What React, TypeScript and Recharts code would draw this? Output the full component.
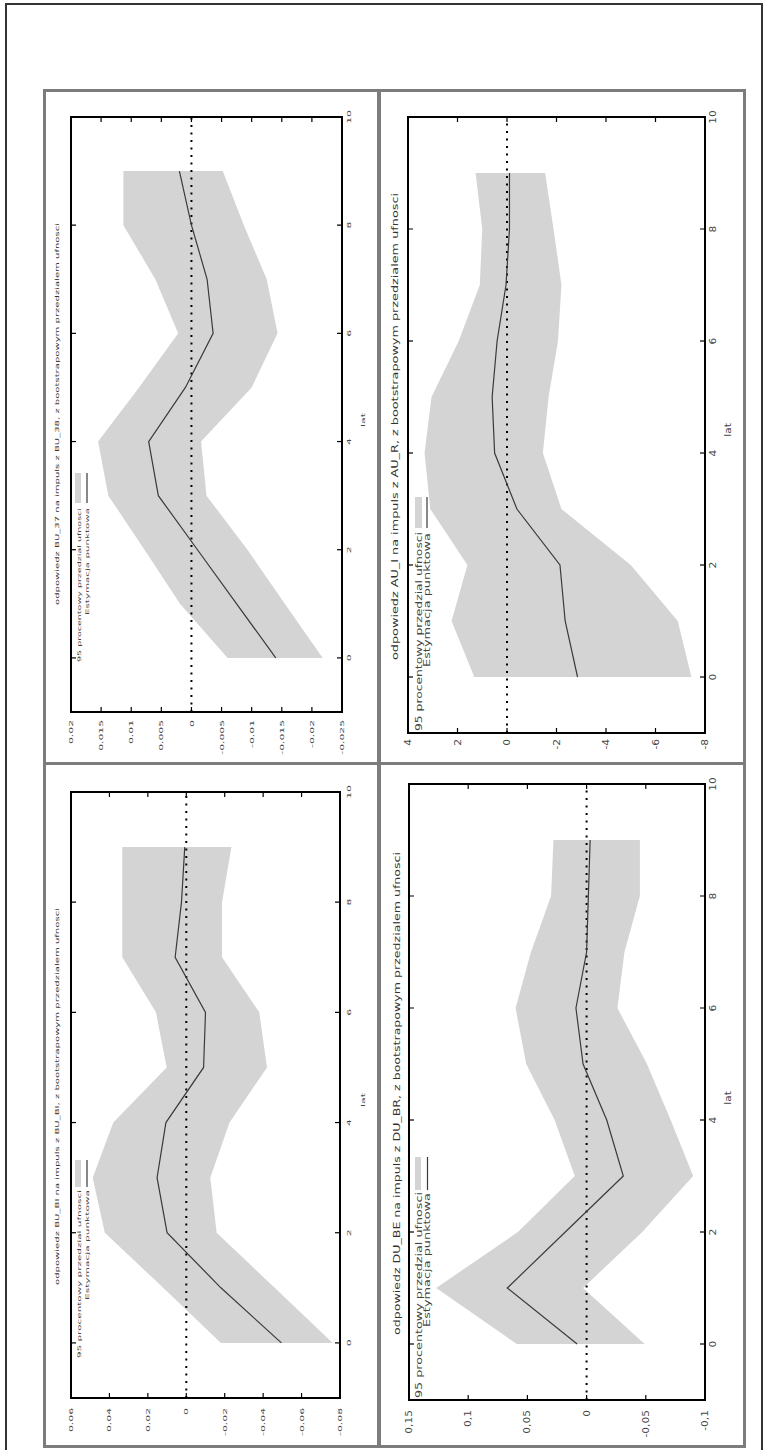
import React from "react";
import { Area, ComposedChart, Line, ReferenceLine, XAxis, YAxis } from "recharts";

// horizon (years) shared by all four impulse responses
const lags = [0, 1, 2, 3, 4, 5, 6, 7, 8, 9];
const lagTicks = [0, 2, 4, 6, 8, 10];
const legendLabels = ["95 procentowy przedzial ufnosci", "Estymacja punktowa"];

// top left
const buUpper = [-0.006, 0.0019, 0.0078, 0.0138, 0.0155, 0.0087, 0.0022, 0.006, 0.0113, 0.0113];
const buLower = [-0.0218, -0.0155, -0.0093, -0.0025, -0.0016, -0.01, -0.0143, -0.0125, -0.0087, -0.0052];
const buEst = [-0.014, -0.0075, -0.001, 0.0055, 0.0071, 0.001, -0.0036, -0.0026, 0.0, 0.002];
const buTicks = [0.02, 0.015, 0.01, 0.005, 0, -0.005, -0.01, -0.015, -0.02, -0.025];

// top right
const auUpper = [1.32, 2.24, 1.6, 3.1, 3.33, 3.05, 1.95, 1.1, 1.0, 1.27];
const auLower = [-7.45, -6.9, -5.0, -2.2, -1.45, -1.68, -2.06, -2.2, -1.88, -1.54];
const auEst = [-2.85, -2.35, -2.14, -0.4, 0.5, 0.6, 0.4, 0.04, -0.1, -0.1];
const auTicks = [4, 2, 0, -2, -4, -6, -8];

// bottom left
const biUpper = [-0.018, 0.012, 0.0424, 0.0487, 0.038, 0.0102, 0.0158, 0.0333, 0.0333, 0.0333];
const biLower = [-0.0762, -0.046, -0.0158, -0.0125, -0.0225, -0.042, -0.038, -0.0186, -0.0186, -0.0235];
const biEst = [-0.0495, -0.018, 0.01, 0.0152, 0.0106, -0.009, -0.01, 0.0058, 0.0025, 0.0008];
const biTicks = [0.06, 0.04, 0.02, 0, -0.02, -0.04, -0.06, -0.08];

// bottom right
const duUpper = [0.059, 0.127, 0.058, 0.01, 0.027, 0.051, 0.06, 0.047, 0.03, 0.028];
const duLower = [-0.049, 0.003, -0.047, -0.09, -0.071, -0.051, -0.026, -0.032, -0.045, -0.045];
const duEst = [0.008, 0.067, 0.018, -0.031, -0.017, 0.003, 0.009, 0.0, -0.0015, -0.003];
const duTicks = [0.15, 0.1, 0.05, 0, -0.05, -0.1];

const comma = (v: number) => String(v).replace(".", ",");
const FONT = "DejaVu Sans, sans-serif";
const TICK = 5;

type Cfg = {
  left: number; top: number; width: number; height: number; // box on the page (chart is turned -90deg into it)
  ml: number; mr: number; mt: number; mb: number; // plot edges inside the unturned chart
  upper: number[]; lower: number[]; est: number[];
  domain: [number, number]; ticks: number[];
  tickFont: number; sx: number; yGap: number; xGap: number;
  title: string; titleU: [number, number]; titleV: number; titleFont: number;
  leg1: [number, number]; leg2: [number, number]; legV: [number, number]; legFont: number;
  swatch: [number, number, number, number]; // u0, u1, v0, v1
  latU: number; latV: number;
};

const panels: Cfg[] = [
  {
    left: 43, top: 90, width: 336, height: 674,
    ml: 52, mr: 27, mt: 28, mb: 37,
    upper: buUpper, lower: buLower, est: buEst, domain: [-0.025, 0.02], ticks: buTicks,
    tickFont: 6, sx: 1.8, yGap: 8, xGap: 7,
    title: "odpowiedz BU_37 na impuls z BU_38, z bootstrapowym przedzialem ufnosci",
    titleU: [159, 382], titleV: 14, titleFont: 5.5,
    leg1: [102, 154], leg2: [149, 107], legV: [35.5, 43.5], legFont: 5,
    swatch: [261, 291, 32, 38], latU: 344, latV: 320,
  },
  {
    left: 379, top: 90, width: 366, height: 674,
    ml: 31, mr: 27, mt: 29, mb: 40,
    upper: auUpper, lower: auLower, est: auEst, domain: [-8, 4], ticks: auTicks,
    tickFont: 8.5, sx: 1.25, yGap: 6, xGap: 8,
    title: "odpowiedz AU_I na impuls z AU_R, z bootstrapowym przedzialem ufnosci",
    titleU: [104, 467], titleV: 16, titleFont: 9,
    leg1: [33, 199], leg2: [97, 134], legV: [39.5, 47.5], legFont: 8.5,
    swatch: [236, 267, 36, 43], latU: 334, latV: 349,
  },
  {
    left: 43, top: 764, width: 336, height: 682,
    ml: 48, mr: 28, mt: 28, mb: 39,
    upper: biUpper, lower: biLower, est: biEst, domain: [-0.08, 0.06], ticks: biTicks,
    tickFont: 6, sx: 1.8, yGap: 10, xGap: 9,
    title: "odpowiedz BU_BI na impuls z BU_BI, z bootstrapowym przedzialem ufnosci",
    titleU: [161, 377], titleV: 14, titleFont: 5.5,
    leg1: [88, 168], leg2: [146, 110], legV: [35.5, 43.5], legFont: 5,
    swatch: [259, 286, 32, 38], latU: 346, latV: 320,
  },
  {
    left: 379, top: 764, width: 366, height: 682,
    ml: 46, mr: 20, mt: 30, mb: 40,
    upper: duUpper, lower: duLower, est: duEst, domain: [-0.1, 0.15], ticks: duTicks,
    tickFont: 8.5, sx: 1.25, yGap: 10, xGap: 8,
    title: "odpowiedz DU_BE na impuls z DU_BR, z bootstrapowym przedzialem ufnosci",
    titleU: [111, 483], titleV: 18, titleFont: 9,
    leg1: [48, 206], leg2: [119, 134], legV: [39.5, 48], legFont: 8.5,
    swatch: [256, 289, 36, 42], latU: 348, latV: 349,
  },
];

function Panel({ c }: { c: Cfg }) {
  const W = c.height;
  const H = c.width;
  const pw = W - c.ml - c.mr;
  const ph = H - c.mt - c.mb;
  const data = lags.map((t, i) => ({ t, band: [c.lower[i], c.upper[i]], est: c.est[i] }));

  const yTick = (p: any) => (
    <g>
      <line x1={c.ml} x2={c.ml + TICK} y1={p.y} y2={p.y} stroke="#000" strokeWidth={1.2} />
      <line x1={c.ml + pw - TICK} x2={c.ml + pw} y1={p.y} y2={p.y} stroke="#000" strokeWidth={1.2} />
      <text
        transform={`translate(${c.ml - c.yGap},${p.y}) scale(${c.sx},1)`}
        textAnchor="end"
        dominantBaseline="central"
        fontSize={c.tickFont}
        fontFamily={FONT}
        fill="#444"
      >
        {comma(p.payload.value)}
      </text>
    </g>
  );

  const xTick = (p: any) => (
    <g>
      <line x1={p.x} x2={p.x} y1={c.mt + ph - TICK} y2={c.mt + ph} stroke="#000" strokeWidth={1.2} />
      <line x1={p.x} x2={p.x} y1={c.mt} y2={c.mt + TICK} stroke="#000" strokeWidth={1.2} />
      <text
        transform={`translate(${p.x},${c.mt + ph + c.xGap}) scale(${c.sx},1)`}
        textAnchor="middle"
        dominantBaseline="central"
        fontSize={c.tickFont}
        fontFamily={FONT}
        fill="#444"
      >
        {p.payload.value}
      </text>
    </g>
  );

  return (
    <div style={{ position: "absolute", left: c.left, top: c.top, width: c.width, height: c.height }}>
      <div
        style={{
          position: "absolute",
          left: (c.width - W) / 2,
          top: (c.height - H) / 2,
          width: W,
          height: H,
          transform: "rotate(-90deg)",
        }}
      >
        <ComposedChart width={W} height={H} data={data} margin={{ top: c.mt, right: c.mr, bottom: 0, left: 0 }}>
          <XAxis
            type="number"
            dataKey="t"
            domain={[-1, 10]}
            ticks={lagTicks}
            interval={0}
            allowDataOverflow
            axisLine={false}
            tickLine={false}
            height={c.mb}
            tick={xTick}
          />
          <YAxis
            type="number"
            domain={c.domain}
            ticks={c.ticks}
            interval={0}
            allowDataOverflow
            axisLine={false}
            tickLine={false}
            width={c.ml}
            tick={yTick}
          />
          <Area
            type="linear"
            dataKey="band"
            stroke="none"
            fill="#d4d4d4"
            fillOpacity={1}
            isAnimationActive={false}
            activeDot={false}
          />
          <ReferenceLine y={0} stroke="#000" strokeWidth={2} strokeDasharray="2 5.5" />
          <Line
            type="linear"
            dataKey="est"
            stroke="#3a3a3a"
            strokeWidth={1.2}
            dot={false}
            activeDot={false}
            isAnimationActive={false}
          />
        </ComposedChart>
        <svg width={W} height={H} style={{ position: "absolute", left: 0, top: 0, pointerEvents: "none" }}>
          <rect x={c.ml} y={c.mt} width={pw} height={ph} fill="none" stroke="#000" strokeWidth={2} />
          <text
            x={c.titleU[0]}
            y={c.titleV}
            textLength={c.titleU[1]}
            lengthAdjust="spacingAndGlyphs"
            dominantBaseline="central"
            fontSize={c.titleFont}
            fontFamily={FONT}
            fill="#333"
          >
            {c.title}
          </text>
          <text
            x={c.leg1[0]}
            y={c.legV[0]}
            textLength={c.leg1[1]}
            lengthAdjust="spacingAndGlyphs"
            dominantBaseline="central"
            fontSize={c.legFont}
            fontFamily={FONT}
            fill="#444"
          >
            {legendLabels[0]}
          </text>
          <text
            x={c.leg2[0]}
            y={c.legV[1]}
            textLength={c.leg2[1]}
            lengthAdjust="spacingAndGlyphs"
            dominantBaseline="central"
            fontSize={c.legFont}
            fontFamily={FONT}
            fill="#444"
          >
            {legendLabels[1]}
          </text>
          <rect
            x={c.swatch[0]}
            y={c.swatch[2]}
            width={c.swatch[1] - c.swatch[0]}
            height={c.swatch[3] - c.swatch[2]}
            fill="#d4d4d4"
          />
          <line x1={c.swatch[0]} x2={c.swatch[1]} y1={c.legV[1] + 0.5} y2={c.legV[1] + 0.5} stroke="#3a3a3a" strokeWidth={1.2} />
          <text
            transform={`translate(${c.latU},${c.latV}) scale(${c.sx},1)`}
            textAnchor="middle"
            dominantBaseline="central"
            fontSize={c.tickFont}
            fontFamily={FONT}
            fill="#444"
          >
            lat
          </text>
        </svg>
      </div>
    </div>
  );
}

const frames = [
  { left: 43, top: 89, width: 337, height: 676 },
  { left: 378, top: 89, width: 368, height: 676 },
  { left: 43, top: 762, width: 337, height: 686 },
  { left: 378, top: 762, width: 368, height: 686 },
];

export default function App() {
  return (
    <div style={{ position: "absolute", left: 0, top: 0, width: 766, height: 1450, background: "#fff", overflow: "hidden" }}>
      <div
        style={{
          position: "absolute",
          left: 5,
          top: 3,
          width: 758,
          height: 1460,
          border: "2px solid #333",
          boxSizing: "border-box",
        }}
      />
      {frames.map((f, i) => (
        <div
          key={i}
          style={{ position: "absolute", ...f, border: "3px solid #7c7c7c", boxSizing: "border-box" }}
        />
      ))}
      {panels.map((c, i) => (
        <Panel key={i} c={c} />
      ))}
    </div>
  );
}
